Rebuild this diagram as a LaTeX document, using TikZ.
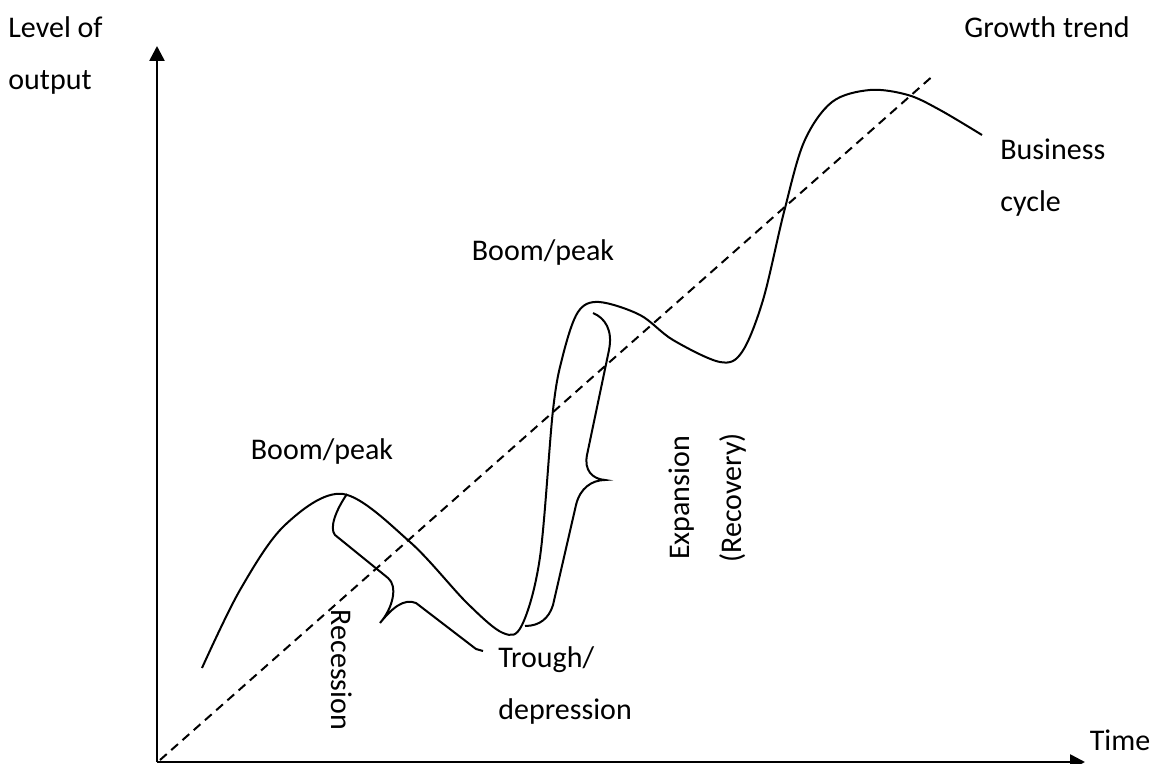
\documentclass[tikz,border=0pt]{standalone}
\usepackage{fontspec}
\setmainfont{Carlito}
\usetikzlibrary{arrows.meta}
\tikzset{
  lbl/.style={font=\fontsize{15}{26}\selectfont, inner sep=0pt},
  ax/.style={line width=1.3pt, -{Triangle[length=7.5pt, width=7.5pt]}},
  crv/.style={line width=1pt},
}
\begin{document}
\begin{tikzpicture}[x=0.5pt, y=-0.5pt]
			\useasboundingbox (0,0) rectangle (1150,764);
			% axes
			\coordinate (O) at (157,762);
			\coordinate (ytip) at (157,46);
			\coordinate (xtip) at (1085,762);
			\draw[ax] (O) -- (ytip);
			\draw[ax] (O) -- (xtip);
			% trend
			\coordinate (t0) at (160,760);
			\coordinate (t1) at (935,74);
			\draw[crv, dashed, dash pattern=on 4.5pt off 3pt] (t0) -- (t1);
			% cycle
			\draw[crv] plot[smooth, tension=0.55] coordinates {(202,668) (240,590) (285,525) (343,494) (410,542) (467,603) (503,633) (522,625) (540,557) (553,410) (563,355) (578,312) (599,302) (640,315) (673,340) (720,362) (742,352) (763,300) (784,212) (804,142) (832,102) (870,90) (908,95) (940,110) (982,135)};
			% braces
			\draw[crv] (347,494) .. controls (336,510) and (329,528) .. (335,535) -- (388,578) .. controls (398,586) and (393,608) .. (380,623) .. controls (392,608) and (404,598) .. (416,603) -- (476,649) -- (483,651);
			\draw[crv] (593,313) .. controls (605,318) and (613,330) .. (609,350) -- (587,455) .. controls (584,470) and (592,479) .. (605,480) .. controls (592,480) and (580,488) .. (576,505) -- (553,605) .. controls (549,618) and (540,626) .. (525,626);
			% labels
			\node[lbl, anchor=north west, align=left] (yl) at (8,16) {Level of\\output};
			\node[lbl, anchor=north east] (gt) at (1130,16) {Growth trend};
			\node[lbl, anchor=north west, align=left] (bc) at (1000,138) {Business\\cycle};
			\node[lbl] (b1) at (322,452) {Boom/peak};
			\node[lbl] (b2) at (543,253) {Boom/peak};
			\node[lbl, rotate=-90] (rec) at (342,670) {Recession};
			\node[lbl, rotate=90, align=center] (exp) at (708,498) {Expansion\\(Recovery)};
			\node[lbl, anchor=north west, align=left] (tr) at (498,646) {Trough/\\depression};
			\node[lbl] (tm) at (1120,740) {Time};
		\end{tikzpicture}
\end{document}
